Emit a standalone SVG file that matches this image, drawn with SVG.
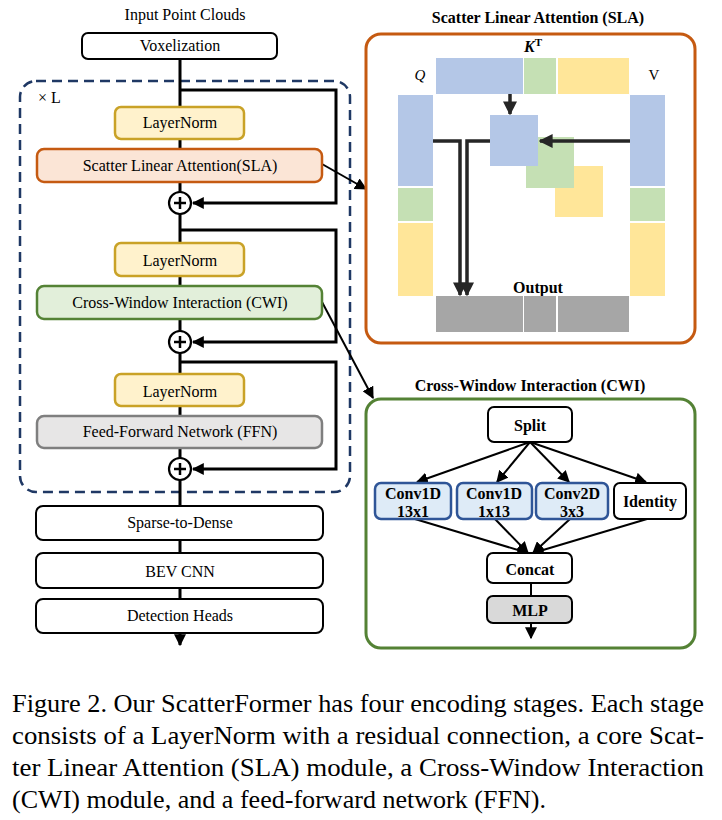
<svg xmlns="http://www.w3.org/2000/svg" width="722" height="820" viewBox="0 0 722 820">
<defs>
<marker id="ah" viewBox="0 0 10 10" refX="9" refY="5" markerWidth="4" markerHeight="4" orient="auto"><path d="M0,0 L10,5 L0,10 z" fill="#000"/></marker>
<marker id="ahs" viewBox="0 0 10 10" refX="9" refY="5" markerWidth="6" markerHeight="6" orient="auto"><path d="M0,0 L10,5 L0,10 z" fill="#000"/></marker>
<marker id="ahd" viewBox="0 0 10 10" refX="9" refY="5" markerWidth="4" markerHeight="4" orient="auto"><path d="M0,0 L10,5 L0,10 z" fill="#262626"/></marker>
</defs>
<style>
.t{font-family:"Liberation Serif","Times New Roman",serif;font-size:16px;fill:#000;text-anchor:middle}
.b{font-family:"Liberation Serif","Times New Roman",serif;font-size:16px;font-weight:bold;fill:#000;text-anchor:middle}
.ttl{font-family:"Liberation Serif","Times New Roman",serif;font-size:16px;font-weight:bold;fill:#000;text-anchor:middle}
.cap{font-family:"Liberation Serif","Times New Roman",serif;font-size:26px;fill:#000}
.ln{fill:#fff2cc;stroke:#c9a227;stroke-width:2.5}
.wb{fill:#fff;stroke:#000;stroke-width:2}
.conv{fill:#deebf7;stroke:#2f5597;stroke-width:2.5}
.wire{fill:none;stroke:#000;stroke-width:3}
.thin{fill:none;stroke:#000;stroke-width:2}
.dk{fill:none;stroke:#262626;stroke-width:3.5}
.bl{fill:#b4c7e7}.gr{fill:#c5e0b4}.ye{fill:#ffe699}.gy{fill:#a6a6a6}
</style>

<text class="t" x="185" y="20">Input Point Clouds</text>
<rect id="stack-frame" x="20" y="81" width="330" height="411" rx="16" fill="none" stroke="#1f3864" stroke-width="2.5" stroke-dasharray="10,6"/>
<text class="t" x="38" y="103" style="text-anchor:start">× L</text>

<g id="connectors">
<line class="wire" x1="180" y1="59" x2="180" y2="645" marker-end="url(#ah)"/>
<path class="wire" d="M180,90 H336 V203 H193" marker-end="url(#ah)"/>
<path class="wire" d="M180,230 H336 V342 H193" marker-end="url(#ah)"/>
<path class="wire" d="M180,362 H336 V469 H193" marker-end="url(#ah)"/>
<line class="thin" x1="322" y1="164" x2="366" y2="189" marker-end="url(#ahs)"/>
<line class="thin" x1="322" y1="302" x2="373" y2="398" marker-end="url(#ahs)"/>
</g>

<g id="voxelization"><rect class="wb" x="82" y="33" width="195" height="26" rx="6"/><text class="t" x="180" y="51">Voxelization</text></g>
<g id="layernorm1"><rect class="ln" x="115" y="107" width="129" height="32" rx="6"/><text class="t" x="180" y="128">LayerNorm</text></g>
<g id="sla"><rect x="37" y="149" width="285" height="33" rx="7" fill="#fbe5d6" stroke="#c55a11" stroke-width="2.5"/><text class="t" x="180" y="171">Scatter Linear Attention(SLA)</text></g>
<g id="add1"><circle cx="180" cy="203" r="11" fill="#fff" stroke="#000" stroke-width="2.2"/><path d="M174,203 H186 M180,197 V209" stroke="#000" stroke-width="2.5"/></g>
<g id="layernorm2"><rect class="ln" x="115" y="243" width="129" height="33" rx="6"/><text class="t" x="180" y="266">LayerNorm</text></g>
<g id="cwi"><rect x="37" y="286" width="285" height="33" rx="7" fill="#e2efda" stroke="#548235" stroke-width="2.5"/><text class="t" x="180" y="308">Cross-Window Interaction (CWI)</text></g>
<g id="add2"><circle cx="180" cy="342" r="11" fill="#fff" stroke="#000" stroke-width="2.2"/><path d="M174,342 H186 M180,336 V348" stroke="#000" stroke-width="2.5"/></g>
<g id="layernorm3"><rect class="ln" x="115" y="374" width="129" height="32" rx="6"/><text class="t" x="180" y="397">LayerNorm</text></g>
<g id="ffn"><rect x="37" y="416" width="285" height="32" rx="7" fill="#e7e6e6" stroke="#7f7f7f" stroke-width="2.5"/><text class="t" x="180" y="437">Feed-Forward Network (FFN)</text></g>
<g id="add3"><circle cx="180" cy="469" r="11" fill="#fff" stroke="#000" stroke-width="2.2"/><path d="M174,469 H186 M180,463 V475" stroke="#000" stroke-width="2.5"/></g>
<g id="sparse"><rect class="wb" x="36" y="506" width="287" height="34" rx="7"/><text class="t" x="180" y="528">Sparse-to-Dense</text></g>
<g id="bev"><rect class="wb" x="36" y="553" width="287" height="35" rx="7"/><text class="t" x="180" y="577">BEV CNN</text></g>
<g id="heads"><rect class="wb" x="36" y="599" width="287" height="34" rx="7"/><text class="t" x="180" y="621">Detection Heads</text></g>

<g id="sla-panel">
<text class="ttl" x="538" y="23">Scatter Linear Attention (SLA)</text>
<rect x="366" y="34" width="329" height="309" rx="15" fill="#fff" stroke="#c55a11" stroke-width="3"/>
<text x="533" y="52" style="font-family:'Liberation Serif','Times New Roman',serif;font-size:16px;font-weight:bold;font-style:italic;text-anchor:middle">K<tspan dy="-6" font-size="11" font-style="normal">T</tspan></text>
<text x="420" y="80" style="font-family:'Liberation Serif','Times New Roman',serif;font-size:15px;font-style:italic;text-anchor:middle">Q</text>
<text x="654" y="80" style="font-family:'Liberation Serif','Times New Roman',serif;font-size:15px;text-anchor:middle">V</text>
<rect class="bl" x="436" y="58" width="87" height="36"/><rect class="gr" x="524" y="58" width="32" height="36"/><rect class="ye" x="558" y="58" width="71" height="36"/>
<rect class="bl" x="398" y="95" width="35" height="91"/><rect class="gr" x="398" y="188" width="35" height="33"/><rect class="ye" x="398" y="223" width="35" height="73"/>
<rect class="bl" x="630" y="95" width="35" height="91"/><rect class="gr" x="630" y="188" width="35" height="33"/><rect class="ye" x="630" y="223" width="35" height="73"/>
<rect class="ye" x="555" y="166" width="48" height="51"/>
<rect class="gr" x="526" y="137" width="48" height="51"/>
<rect class="bl" x="490" y="115" width="48" height="51"/>
<line class="dk" x1="510" y1="94" x2="510" y2="114" marker-end="url(#ahd)"/>
<line class="dk" x1="630" y1="141" x2="540" y2="141" marker-end="url(#ahd)"/>
<path class="dk" d="M433,141 H460 V295" marker-end="url(#ahd)"/>
<path class="dk" d="M490,141 H467 V295" marker-end="url(#ahd)"/>
<text class="b" x="538" y="293">Output</text>
<rect class="gy" x="436" y="296" width="87" height="36"/><rect class="gy" x="524" y="296" width="32" height="36"/><rect class="gy" x="558" y="296" width="71" height="36"/>
</g>

<g id="cwi-panel">
<text class="ttl" x="530" y="391">Cross-Window Interaction (CWI)</text>
<rect x="366" y="399" width="329" height="249" rx="15" fill="#fff" stroke="#548235" stroke-width="3"/>
<g id="cwi-connectors">
<line class="thin" x1="530" y1="442" x2="417" y2="482" marker-end="url(#ahs)"/>
<line class="thin" x1="530" y1="442" x2="497" y2="482" marker-end="url(#ahs)"/>
<line class="thin" x1="530" y1="442" x2="569" y2="482" marker-end="url(#ahs)"/>
<line class="thin" x1="530" y1="442" x2="646" y2="482" marker-end="url(#ahs)"/>
<line class="thin" x1="415" y1="519" x2="528" y2="553" marker-end="url(#ahs)"/>
<line class="thin" x1="495" y1="519" x2="528" y2="553" marker-end="url(#ahs)"/>
<line class="thin" x1="570" y1="519" x2="533" y2="553" marker-end="url(#ahs)"/>
<line class="thin" x1="647" y1="519" x2="533" y2="553" marker-end="url(#ahs)"/>
<line class="thin" x1="531" y1="583" x2="531" y2="596"/>
<line class="thin" x1="531" y1="623" x2="531" y2="638" marker-end="url(#ahs)"/>
</g>
<g id="split"><rect class="wb" x="488" y="407" width="84" height="35" rx="6"/><text class="b" x="530" y="431">Split</text></g>
<g id="conv1"><rect class="conv" x="375" y="483" width="76" height="36" rx="6"/><text class="b" x="413" y="499">Conv1D</text><text class="b" x="413" y="517">13x1</text></g>
<g id="conv2"><rect class="conv" x="457" y="483" width="75" height="36" rx="6"/><text class="b" x="494" y="499">Conv1D</text><text class="b" x="494" y="517">1x13</text></g>
<g id="conv3"><rect class="conv" x="536" y="483" width="72" height="36" rx="6"/><text class="b" x="572" y="499">Conv2D</text><text class="b" x="572" y="517">3x3</text></g>
<g id="identity"><rect class="wb" x="614" y="483" width="72" height="36" rx="6"/><text class="b" x="650" y="507">Identity</text></g>
<g id="concat"><rect class="wb" x="487" y="553" width="85" height="30" rx="6"/><text class="b" x="530" y="575">Concat</text></g>
<g id="mlp"><rect x="487" y="596" width="85" height="27" rx="6" fill="#d9d9d9" stroke="#000" stroke-width="2"/><text class="b" x="530" y="616">MLP</text></g>
</g>

<g id="caption">
<text class="cap" x="12" y="712" textLength="692" lengthAdjust="spacingAndGlyphs">Figure 2. Our ScatterFormer has four encoding stages. Each stage</text>
<text class="cap" x="12" y="744" textLength="692" lengthAdjust="spacingAndGlyphs">consists of a LayerNorm with a residual connection, a core Scat-</text>
<text class="cap" x="12" y="776" textLength="692" lengthAdjust="spacingAndGlyphs">ter Linear Attention (SLA) module, a Cross-Window Interaction</text>
<text class="cap" x="12" y="808" textLength="534" lengthAdjust="spacingAndGlyphs">(CWI) module, and a feed-forward network (FFN).</text>
</g>
</svg>
